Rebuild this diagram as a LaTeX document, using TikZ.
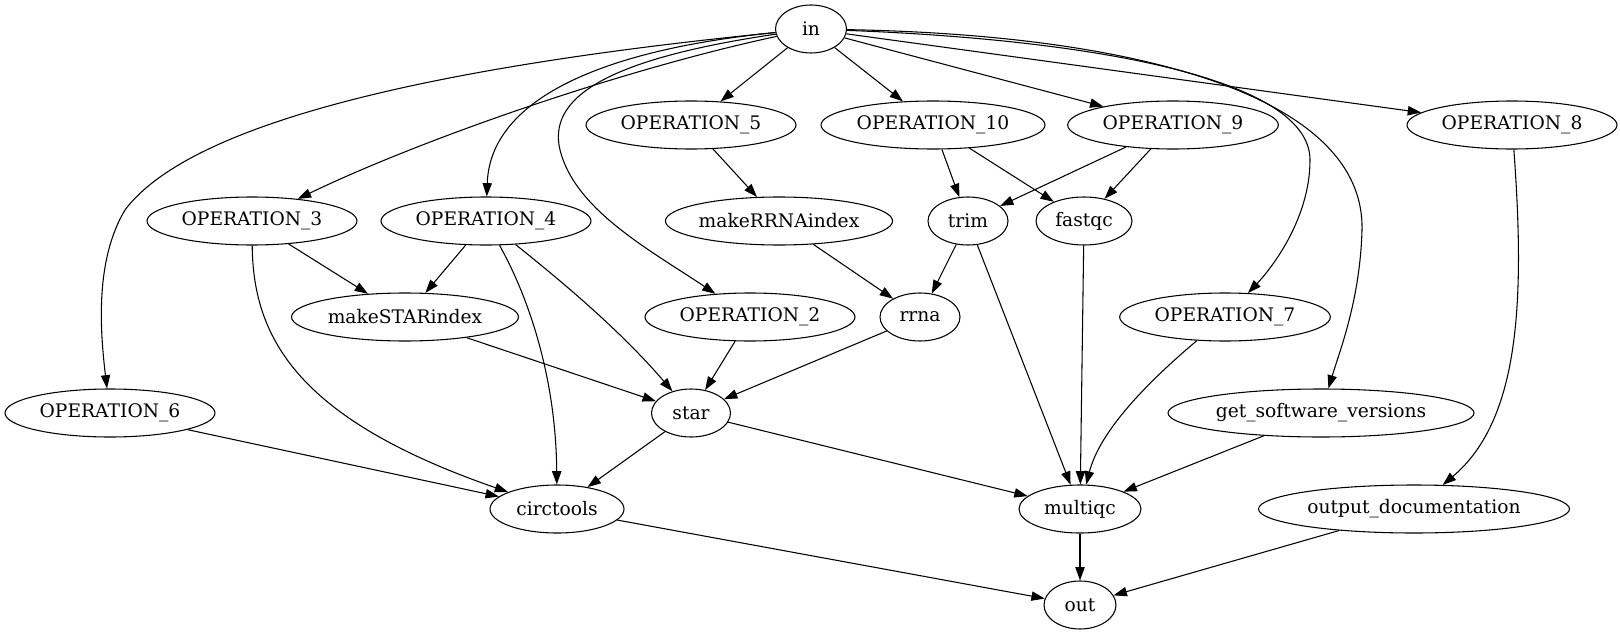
\documentclass[tikz,border=0pt]{standalone}
\usepackage{fontspec}
\setmainfont{DejaVu Serif}
\usetikzlibrary{shapes.geometric,arrows.meta}
\begin{document}
\begin{tikzpicture}[x=0.75pt,y=-0.75pt,
  gv/.style={draw,ellipse,inner sep=0pt,minimum height=36pt,line width=0.8pt,font=\fontsize{14pt}{16pt}\selectfont},
  edge/.style={line width=0.8pt,-{Triangle[length=10pt,width=7pt]}}]
\useasboundingbox (0,0) rectangle (1620,635);
\node[gv,minimum width=53.25pt] (in) at (811,29) {in};
\node[gv,minimum width=157.5pt] (op6) at (110,413) {OPERATION\_6};
\node[gv,minimum width=157.5pt] (op3) at (252,221) {OPERATION\_3};
\node[gv,minimum width=157.5pt] (op4) at (486,221) {OPERATION\_4};
\node[gv,minimum width=157.5pt] (op5) at (691,125) {OPERATION\_5};
\node[gv,minimum width=168pt] (op10) at (933,125) {OPERATION\_10};
\node[gv,minimum width=158pt] (op9) at (1173,125) {OPERATION\_9};
\node[gv,minimum width=157.5pt] (op8) at (1512,125) {OPERATION\_8};
\node[gv,minimum width=170.25pt] (mst) at (405,317) {makeSTARindex};
\node[gv,minimum width=169.5pt] (mrr) at (779,221) {makeRRNAindex};
\node[gv,minimum width=60pt] (trim) at (968,221) {trim};
\node[gv,minimum width=72pt] (fqc) at (1084,221) {fastqc};
\node[gv,minimum width=157.5pt] (op2) at (750,317) {OPERATION\_2};
\node[gv,minimum width=60pt] (rrna) at (920,317) {rrna};
\node[gv,minimum width=158pt] (op7) at (1225,317) {OPERATION\_7};
\node[gv,minimum width=59.25pt] (star) at (691,413) {star};
\node[gv,minimum width=229.5pt] (gsv) at (1321,413) {get\_software\_versions};
\node[gv,minimum width=100.5pt] (circ) at (557,509) {circtools};
\node[gv,minimum width=91.5pt] (mqc) at (1080,509) {multiqc};
\node[gv,minimum width=233.25pt] (od) at (1414,509) {output\_documentation};
\node[gv,minimum width=54pt] (out) at (1080,605) {out};

% edges from in
\draw[edge] (in) .. controls (500,60) and (200,110) .. (125,210) .. controls (95,260) and (100,330) .. (op6);
\draw[edge] (in) .. controls (620,70) and (420,140) .. (op3);
\draw[edge] (in) .. controls (600,50) and (490,100) .. (op4);
\draw[edge] (in) .. controls (600,60) and (548,100) .. (560,150) .. controls (575,210) and (650,250) .. (op2);
\draw[edge] (in) -- (op5);
\draw[edge] (in) -- (op10);
\draw[edge] (in) -- (op9);
\draw[edge] (in) -- (op8);
\draw[edge] (in) .. controls (1100,40) and (1310,80) .. (1310,160) .. controls (1310,220) and (1270,270) .. (op7);
\draw[edge] (in) .. controls (1150,35) and (1365,100) .. (1362,230) .. controls (1360,300) and (1340,350) .. (gsv);

% middle edges
\draw[edge] (op3) -- (mst);
\draw[edge] (op3) .. controls (253,340) and (300,420) .. (circ);
\draw[edge] (op4) -- (mst);
\draw[edge] (op4) .. controls (560,280) and (620,330) .. (star);
\draw[edge] (op4) .. controls (530,300) and (556,380) .. (circ);
\draw[edge] (op5) -- (mrr);
\draw[edge] (op10) -- (trim);
\draw[edge] (op10) -- (fqc);
\draw[edge] (op9) -- (trim);
\draw[edge] (op9) -- (fqc);
\draw[edge] (op8) .. controls (1525,300) and (1520,420) .. (od);
\draw[edge] (mrr) -- (rrna);
\draw[edge] (trim) -- (rrna);
\draw[edge] (trim) -- (mqc);
\draw[edge] (fqc) -- (mqc);
\draw[edge] (mst) -- (star);
\draw[edge] (op2) -- (star);
\draw[edge] (rrna) -- (star);
\draw[edge] (op7) .. controls (1150,380) and (1100,430) .. (mqc);
\draw[edge] (gsv) -- (mqc);
\draw[edge] (op6) -- (circ);
\draw[edge] (star) -- (circ);
\draw[edge] (star) -- (mqc);
\draw[edge] (circ) -- (out);
\draw[edge] (mqc) -- (out);
\draw[edge] (od) -- (out);
\end{tikzpicture}
\end{document}
